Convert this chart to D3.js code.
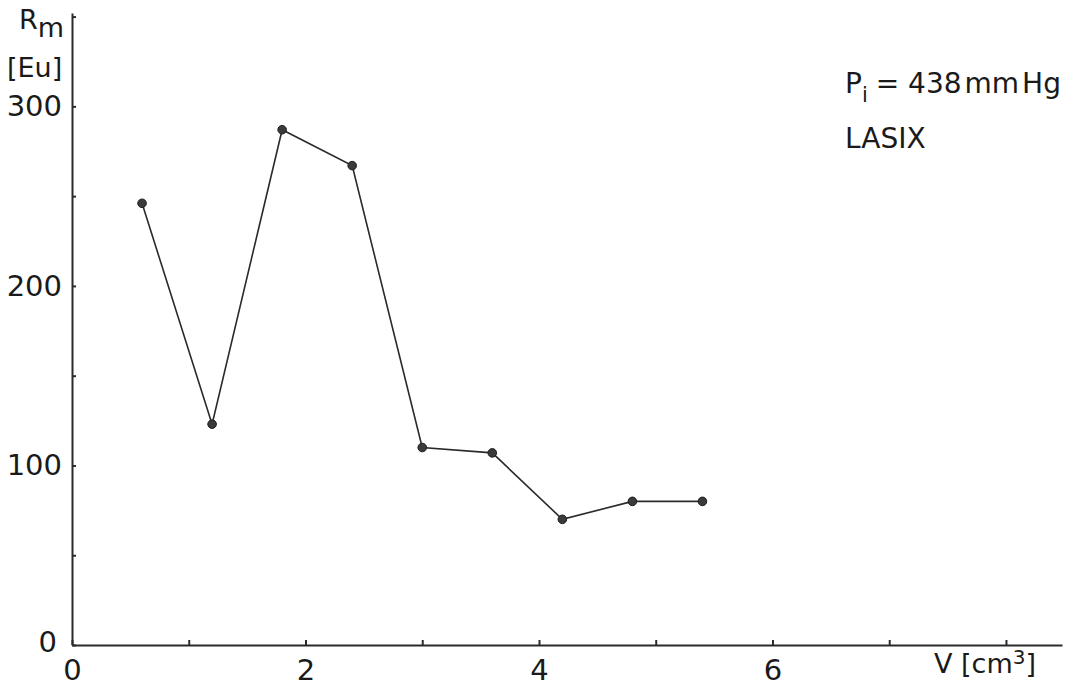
<!DOCTYPE html>
<html>
<head>
<meta charset="utf-8">
<script src="https://cdn.jsdelivr.net/npm/d3@7"></script>
<style>
	body { margin: 0; background: #fff; }
	svg { display: block; }
	text { font-family: "DejaVu Sans", "Open Sans", sans-serif; fill: #1a1a1a; }
	.axis path, .axis line { stroke: #2b2b2b; stroke-width: 2; }
	.axis text { font-size: 29px; }
	.curve { fill: none; stroke: #2a2a2a; stroke-width: 1.6; }
	.dot { fill: #3a3a3a; stroke: #1e1e1e; stroke-width: 1; }
</style>
</head>
<body>
<div id="chart"></div>
<script>
// values
var volume = [0.6, 1.2, 1.8, 2.4, 3.0, 3.6, 4.2, 4.8, 5.4];
var resistance = [246, 123, 287, 267, 110, 107, 70, 80, 80];

var xTicks = [0, 1, 2, 3, 4, 5, 6, 7, 8];
var xTickLabels = {0: "0", 2: "2", 4: "4", 6: "6"};
var yTicks = [0, 50, 100, 150, 200, 250, 300, 350];
var yTickLabels = {0: "0", 100: "100", 200: "200", 300: "300"};

var width = 1077,
	height = 689;

var xScale = d3.scaleLinear().domain([0, 8.48]).range([72, 1062]);
var yScale = d3.scaleLinear().domain([0, 352]).range([645, 13]);

var svg = d3.select("#chart")
	.append("svg")
	.attr("width", width)
	.attr("height", height);

// x axis, ticks pointing up into the plot
var xAxis = d3.axisBottom(xScale)
	.tickValues(xTicks)
	.tickSizeInner(-5)
	.tickSizeOuter(0)
	.tickPadding(14)
	.tickFormat(function(d) { return xTickLabels[d] || ""; });

svg.append("g")
	.attr("class", "axis x")
	.attr("transform", "translate(0," + yScale(0) + ")")
	.call(xAxis);

// y axis, ticks pointing right
var yAxis = d3.axisLeft(yScale)
	.tickValues(yTicks)
	.tickSizeInner(-4)
	.tickSizeOuter(0)
	.tickPadding(10)
	.tickFormat(function(d) { return yTickLabels[d] || ""; });

svg.append("g")
	.attr("class", "axis y")
	.attr("transform", "translate(" + xScale(0) + ",0)")
	.call(yAxis);

svg.selectAll(".axis text").attr("fill", "#1a1a1a");

// the zero on the y axis sits a bit left and up
svg.selectAll(".axis.y .tick")
	.filter(function(d) { return d === 0; })
	.select("text")
	.attr("x", -15)
	.attr("dy", "0.22em");

// data line + dots
var points = volume.map(function(v, i) { return {x: v, y: resistance[i]}; });

var line = d3.line()
	.x(function(d) { return xScale(d.x); })
	.y(function(d) { return yScale(d.y); });

svg.append("path")
	.datum(points)
	.attr("class", "curve")
	.attr("d", line);

svg.selectAll(".dot")
	.data(points)
	.enter()
	.append("circle")
	.attr("class", "dot")
	.attr("cx", function(d) { return xScale(d.x); })
	.attr("cy", function(d) { return yScale(d.y); })
	.attr("r", 4.3);

// axis titles
var rLabel = svg.append("text")
	.attr("x", 19)
	.attr("y", 29)
	.style("font-size", "27px");
rLabel.append("tspan").text("R");
rLabel.append("tspan").attr("dy", 8).text("m");

svg.append("text")
	.attr("x", 7)
	.attr("y", 77)
	.style("font-size", "27px")
	.text("[Eu]");

var vLabel = svg.append("text")
	.attr("x", 934)
	.attr("y", 673)
	.style("font-size", "27px");
vLabel.append("tspan").text("V [cm");
vLabel.append("tspan").attr("dy", -9).style("font-size", "20px").text("3");
vLabel.append("tspan").attr("dy", 9).text("]");

// annotation
var pLabel = svg.append("text")
	.attr("x", 845)
	.attr("y", 93)
	.style("font-size", "28px");
pLabel.append("tspan").text("P");
pLabel.append("tspan").attr("dy", 9).style("font-size", "21px").text("i");
pLabel.append("tspan").attr("dy", -9).attr("dx", 8).text("= 438");
pLabel.append("tspan").attr("dx", 3).text("mm");
pLabel.append("tspan").attr("dx", 3).text("Hg");

svg.append("text")
	.attr("x", 845)
	.attr("y", 148)
	.style("font-size", "28px")
	.text("LASIX");
</script>
</body>
</html>
